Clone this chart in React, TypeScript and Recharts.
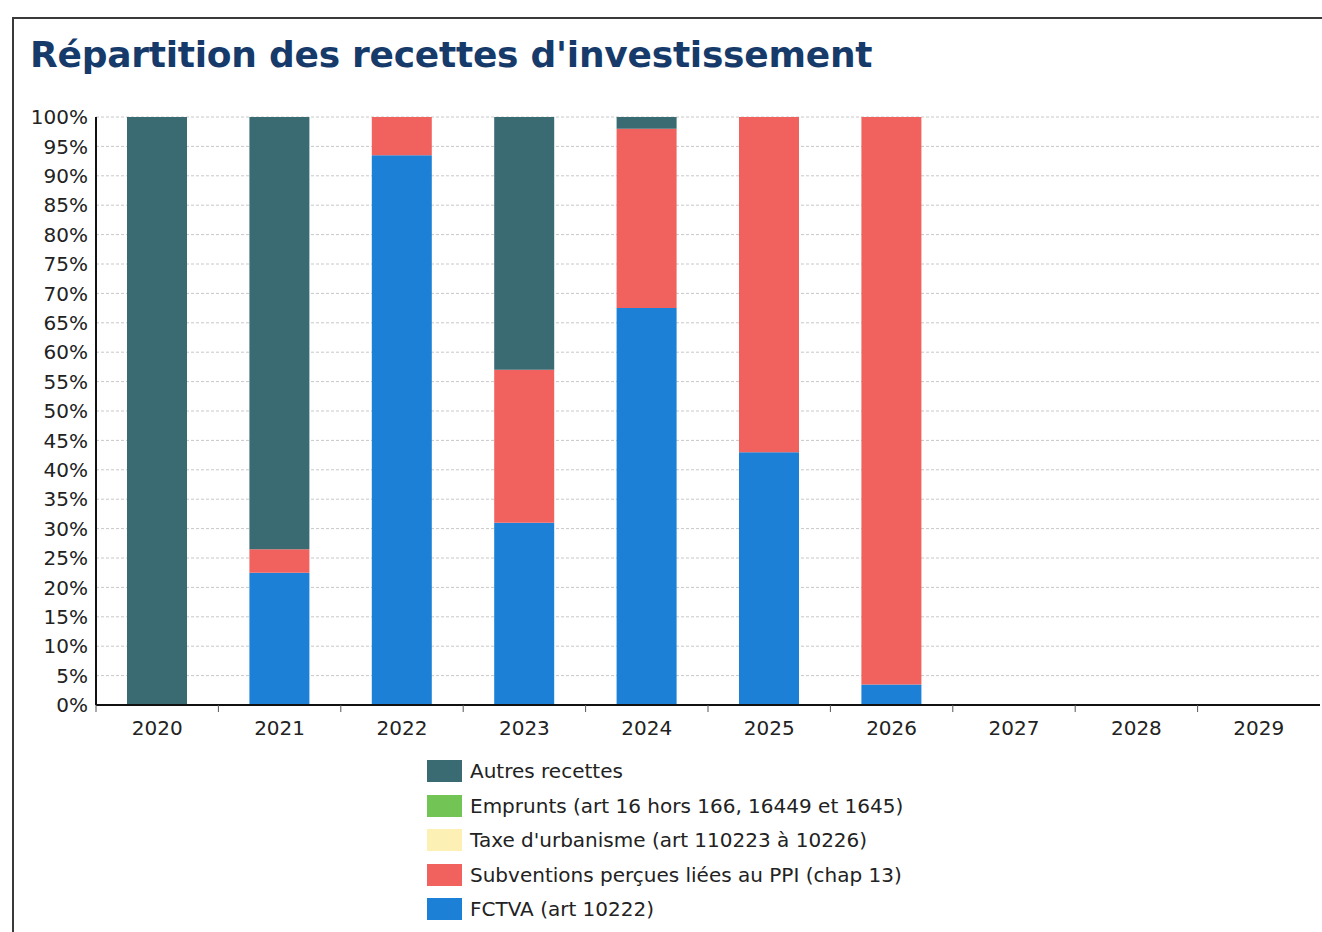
import React from "react";
import { BarChart, Bar, XAxis, YAxis, CartesianGrid } from "recharts";

const YEARS = ["2020", "2021", "2022", "2023", "2024", "2025", "2026", "2027", "2028", "2029"];
// shares in % per year, stacked bottom to top
const FCTVA = [0, 22.5, 93.5, 31, 67.5, 43, 3.5, 0, 0, 0];
const SUBVENTIONS = [0, 4, 6.5, 26, 30.5, 57, 96.5, 0, 0, 0];
const TAXE = [0, 0, 0, 0, 0, 0, 0, 0, 0, 0];
const EMPRUNTS = [0, 0, 0, 0, 0, 0, 0, 0, 0, 0];
const AUTRES = [100, 73.5, 0, 43, 2, 0, 0, 0, 0, 0];
const Y_TICKS = [0, 5, 10, 15, 20, 25, 30, 35, 40, 45, 50, 55, 60, 65, 70, 75, 80, 85, 90, 95, 100];

const SERIES = [
  { key: "autres", label: "Autres recettes", color: "#3a6b73" },
  { key: "emprunts", label: "Emprunts (art 16 hors 166, 16449 et 1645)", color: "#72c455" },
  { key: "taxe", label: "Taxe d'urbanisme (art 110223 à 10226)", color: "#fdf0b5" },
  { key: "subv", label: "Subventions perçues liées au PPI (chap 13)", color: "#f1625f" },
  { key: "fctva", label: "FCTVA (art 10222)", color: "#1b80d6" },
];

const FONT = "'DejaVu Sans', Verdana, sans-serif";
const PLOT_W = 1224;
const BAND = PLOT_W / YEARS.length;

function YearTick(props: { x?: number; y?: number; payload?: { value: string } }) {
  const { x = 0, y = 0, payload } = props;
  return (
    <g>
      <line x1={x - BAND / 2} y1={y - 8} x2={x - BAND / 2} y2={y - 1} stroke="#555" strokeWidth={1} />
      <text x={x} y={y + 22} textAnchor="middle" fontFamily={FONT} fontSize={20} fill="#222">
        {payload?.value}
      </text>
    </g>
  );
}

export default function App() {
  const data = YEARS.map((year, i) => ({
    year,
    fctva: FCTVA[i],
    subv: SUBVENTIONS[i],
    taxe: TAXE[i],
    emprunts: EMPRUNTS[i],
    autres: AUTRES[i],
  }));
  const stackOrder = ["fctva", "subv", "taxe", "emprunts", "autres"];

  return (
    <div
      style={{
        position: "absolute",
        top: 0,
        left: 0,
        width: 1322,
        height: 932,
        overflow: "hidden",
        background: "#fff",
        fontFamily: FONT,
      }}
    >
      <div
        style={{
          position: "absolute",
          left: 12,
          top: 17,
          width: 1400,
          height: 1000,
          border: "2px solid #3a3a3a",
        }}
      />
      <div
        style={{
          position: "absolute",
          left: 30,
          top: 34,
          fontSize: 36,
          fontWeight: "bold",
          color: "#163a6a",
          whiteSpace: "nowrap",
          letterSpacing: -0.25,
        }}
      >
        Répartition des recettes d'investissement
      </div>
      <div style={{ position: "absolute", left: 0, top: 0 }}>
        <BarChart
          width={1322}
          height={760}
          data={data}
          margin={{ top: 117, right: 2, bottom: 25, left: 6 }}
          barSize={60}
        >
          <CartesianGrid vertical={false} stroke="#c8c8c8" strokeDasharray="3 2" />
          <XAxis
            dataKey="year"
            height={30}
            tick={<YearTick />}
            tickLine={false}
            axisLine={{ stroke: "#111", strokeWidth: 2 }}
            interval={0}
          />
          <YAxis
            width={90}
            domain={[0, 100]}
            ticks={Y_TICKS}
            interval={0}
            tickFormatter={(v: number) => `${v}%`}
            tick={{ fontFamily: FONT, fontSize: 20, fill: "#222" }}
            tickLine={false}
            axisLine={{ stroke: "#111", strokeWidth: 2 }}
          />
          {stackOrder.map((k) => {
            const s = SERIES.find((x) => x.key === k)!;
            return (
              <Bar key={k} dataKey={k} stackId="a" fill={s.color} isAnimationActive={false} />
            );
          })}
        </BarChart>
      </div>
      <div style={{ position: "absolute", left: 427, top: 754 }}>
        {SERIES.map((s) => (
          <div
            key={s.key}
            style={{ display: "flex", alignItems: "center", height: 34.5, whiteSpace: "nowrap" }}
          >
            <div style={{ width: 35, height: 22, background: s.color, marginRight: 8 }} />
            <span style={{ fontSize: 20, color: "#222" }}>{s.label}</span>
          </div>
        ))}
      </div>
    </div>
  );
}
